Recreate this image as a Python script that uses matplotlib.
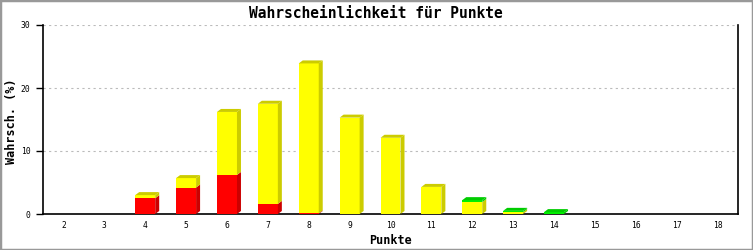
import matplotlib
matplotlib.use("Agg")
from matplotlib import pyplot as plt, patches as pa
import numpy as np

# Data
punkte = [str(p) for p in range(2, 19)]
red = [0, 0, 2.5, 4.2, 6.2, 1.6, 0.1, 0, 0, 0, 0, 0, 0, 0, 0, 0, 0]
yellow = [0, 0, 0.5, 1.5, 10.0, 15.9, 23.8, 15.3, 12.1, 4.3, 1.9, 0.3, 0, 0, 0, 0, 0]
green = [0, 0, 0, 0, 0, 0, 0, 0, 0, 0, 0.3, 0.2, 0.3, 0, 0, 0, 0]
y_ticks = [0, 10, 20, 30]

front_cols = ['#ff0000', '#ffff00', '#00f000']
dark_cols = ['#cc0000', '#cccc00', '#00cc00']

plt.rcParams['font.family'] = 'DejaVu Sans Mono'

fig = plt.figure(figsize=(7.53, 2.50), dpi=100)
ax = fig.add_axes([43 / 753, 36 / 250, 695 / 753, 189 / 250])

x = np.arange(len(punkte))
width = 20 / 40.9
# depth of the 3d effect in data units (about 4px right, 3px up)
dx = 4.0 / 40.9
dy = 3.0 / 6.3

bottom = np.zeros(len(punkte))
series = [red, yellow, green]
tops = np.array(red) + np.array(yellow) + np.array(green)
for s, vals in enumerate(series):
    vals = np.array(vals, dtype=float)
    ax.bar(x, vals, width, bottom=bottom, color=front_cols[s], linewidth=0, zorder=3)
    for i in range(len(x)):
        if vals[i] <= 0:
            continue
        x1 = x[i] + width / 2
        b = bottom[i]
        t = bottom[i] + vals[i]
        side = pa.Polygon([(x1, b), (x1 + dx, b + dy), (x1 + dx, t + dy), (x1, t)],
                          closed=True, facecolor=dark_cols[s], edgecolor='none', zorder=3)
        ax.add_patch(side)
        if abs(t - tops[i]) < 1e-9:
            x0 = x[i] - width / 2
            top = pa.Polygon([(x0, t), (x1, t), (x1 + dx, t + dy), (x0 + dx, t + dy)],
                             closed=True, facecolor=dark_cols[s], edgecolor='none', zorder=3)
            ax.add_patch(top)
    bottom = bottom + vals

ax.set_xlim(-0.5, len(punkte) - 0.5)
ax.set_ylim(0, 30)
ax.set_xticks(x)
ax.set_xticklabels(punkte, fontsize=5.8)
ax.set_yticks(y_ticks)
ax.set_yticklabels([str(v) for v in y_ticks], fontsize=5.8)
ax.tick_params(axis='x', length=0, pad=5)
ax.tick_params(axis='y', direction='out', length=5, width=1, pad=4)

for v in y_ticks[1:]:
    ax.axhline(v, color='#bbbbbb', linestyle=(0, (2, 3)), linewidth=0.8, zorder=1)

ax.spines['top'].set_visible(False)
for sp in ['left', 'right', 'bottom']:
    ax.spines[sp].set_linewidth(1.2)
    ax.spines[sp].set_color('black')

fig.text(376 / 753, 1 - 13 / 250, 'Wahrscheinlichkeit für Punkte', fontsize=10.5,
         fontweight='bold', ha='center', va='center')
fig.text(390 / 753, 1 - 240 / 250, 'Punkte', fontsize=8.5, fontweight='bold',
         ha='center', va='center')
fig.text(12 / 753, 1 - 121 / 250, 'Wahrsch. (%)', fontsize=8.5, fontweight='bold',
         ha='center', va='center', rotation=90)

# grey frame round the picture
fig.patches.append(pa.Rectangle((0, 0), 1, 1, transform=fig.transFigure,
                                fill=False, edgecolor='#999999', linewidth=2.5))

fig.savefig('out.png', dpi=100)
